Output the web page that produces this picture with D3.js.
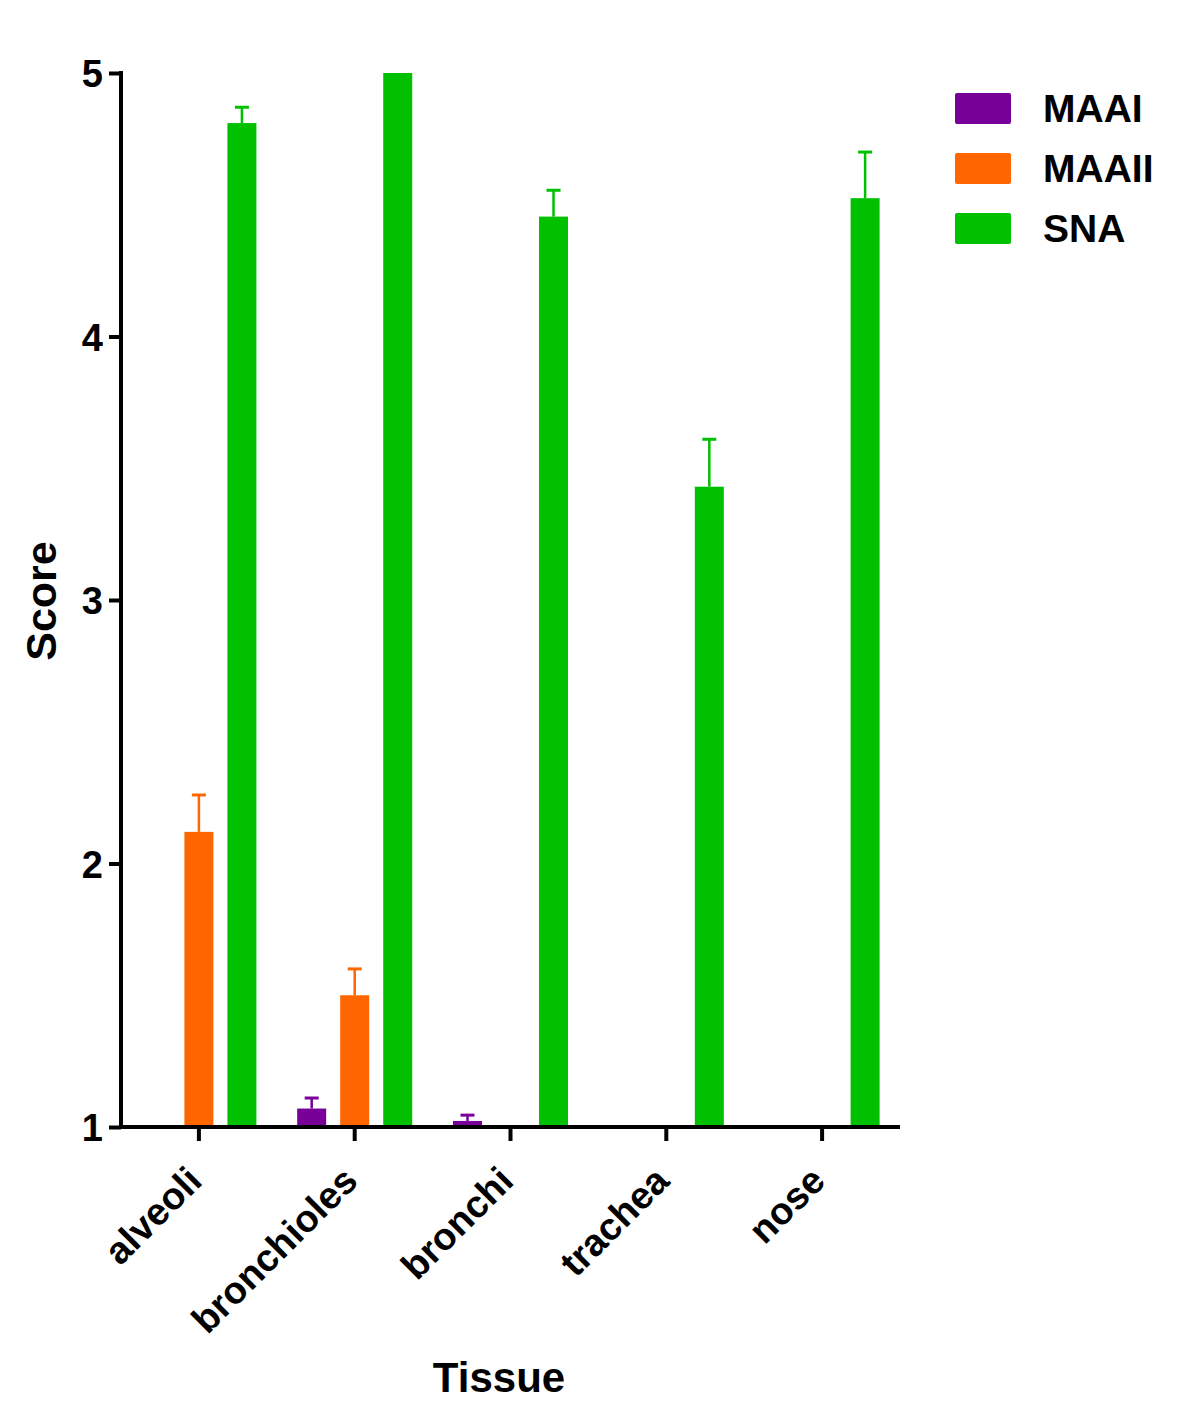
<!DOCTYPE html>
<html>
<head>
<meta charset="utf-8">
<script src="https://cdn.jsdelivr.net/npm/d3@7"></script>
<style>
  body { margin: 0; background: #fff; }
  svg text { font-family: "Liberation Sans", Arial, sans-serif; font-weight: bold; fill: #000; }
</style>
</head>
<body>
<div class="vis-barchart"></div>
<script>
const categories = ["alveoli", "bronchioles", "bronchi", "trachea", "nose"];
const seriesNames = ["MAAI", "MAAII", "SNA"];
const colors = ["#780099", "#ff6600", "#00c000"];
const maaiValues = [1, 1.07, 1.023, 1, 1];
const maaiErrors = [0, 0.04, 0.022, 0, 0];
const maaiiValues = [2.12, 1.5, 1, 1, 1];
const maaiiErrors = [0.14, 0.1, 0, 0, 0];
const snaValues = [4.81, 5.0, 4.455, 3.43, 4.525];
const snaErrors = [0.06, 0, 0.1, 0.18, 0.175];
const yTicks = [1, 2, 3, 4, 5];

const seriesValues = [maaiValues, maaiiValues, snaValues];
const seriesErrors = [maaiErrors, maaiiErrors, snaErrors];

const draw = () => {
  const width = 1200, height = 1414;
  const left = 121, right = 900, top = 73, bottom = 1127;

  const svg = d3.select(".vis-barchart")
    .append("svg")
    .attr("width", width)
    .attr("height", height);

  const x = d3.scaleBand().domain(categories).range([left, right]).padding(0);
  const xInner = d3.scaleBand().domain(seriesNames).range([0, x.bandwidth()])
    .paddingInner(0.326).paddingOuter(0.474);
  const y = d3.scaleLinear().domain([1, 5]).range([bottom, top]);

  // table of bars
  const bars = [];
  categories.forEach((c, i) => {
    seriesNames.forEach((s, j) => {
      bars.push({ cat: c, series: s, color: colors[j],
        value: seriesValues[j][i], err: seriesErrors[j][i] });
    });
  });

  const g = svg.append("g");
  const barG = g.selectAll(".bar").data(bars).enter()
    .append("g").attr("class", "bar")
    .attr("transform", d => `translate(${x(d.cat) + xInner(d.series)},0)`);

  const bw = xInner.bandwidth();

  // error bars (upper only)
  barG.filter(d => d.err > 0).append("line")
    .attr("x1", bw / 2).attr("x2", bw / 2)
    .attr("y1", d => y(d.value)).attr("y2", d => y(d.value + d.err))
    .attr("stroke", d => d.color).attr("stroke-width", 2.5);
  barG.filter(d => d.err > 0).append("line")
    .attr("x1", bw / 2 - 7).attr("x2", bw / 2 + 7)
    .attr("y1", d => y(d.value + d.err)).attr("y2", d => y(d.value + d.err))
    .attr("stroke", d => d.color).attr("stroke-width", 3);

  barG.filter(d => d.value > 1).append("rect")
    .attr("x", 0).attr("width", bw)
    .attr("y", d => y(d.value))
    .attr("height", d => y(1) - y(d.value))
    .attr("fill", d => d.color);

  // y axis
  const yAxis = svg.append("g")
    .attr("transform", `translate(${left},0)`)
    .call(d3.axisLeft(y).tickValues(yTicks).tickFormat(d3.format("d"))
      .tickSize(12).tickSizeOuter(0).tickPadding(6));
  yAxis.select(".domain").attr("stroke", "#000").attr("stroke-width", 4)
    .attr("d", `M0,${top - 2}V${bottom + 2}`);
  yAxis.selectAll(".tick line").attr("stroke", "#000").attr("stroke-width", 4);
  yAxis.selectAll(".tick text").attr("font-size", 38).attr("dy", "0.36em");

  // x axis
  const xAxis = svg.append("g")
    .attr("transform", `translate(0,${bottom})`)
    .call(d3.axisBottom(x).tickSize(14).tickSizeOuter(0));
  xAxis.select(".domain").attr("stroke", "#000").attr("stroke-width", 4)
    .attr("d", `M${left - 2},0H${right}`);
  xAxis.selectAll(".tick line").attr("stroke", "#000").attr("stroke-width", 4);
  xAxis.selectAll(".tick text")
    .attr("font-size", 38)
    .attr("text-anchor", "end")
    .attr("x", 0).attr("y", 0).attr("dy", "0")
    .attr("transform", "translate(5,56) rotate(-45)");

  // axis titles
  svg.append("text")
    .attr("transform", `translate(56,601) rotate(-90)`)
    .attr("text-anchor", "middle")
    .attr("font-size", 43)
    .text("Score");

  svg.append("text")
    .attr("x", 499).attr("y", 1392)
    .attr("text-anchor", "middle")
    .attr("font-size", 42)
    .text("Tissue");

  // legend
  const legend = svg.selectAll(".legend").data(seriesNames).enter()
    .append("g").attr("class", "legend")
    .attr("transform", (d, i) => `translate(955,${93 + i * 60})`);
  legend.append("rect")
    .attr("width", 56).attr("height", 31).attr("rx", 2)
    .attr("fill", (d, i) => colors[i]);
  legend.append("text")
    .attr("x", 88).attr("y", 29)
    .attr("font-size", 39)
    .text(d => d);
};

draw();
</script>
</body>
</html>
